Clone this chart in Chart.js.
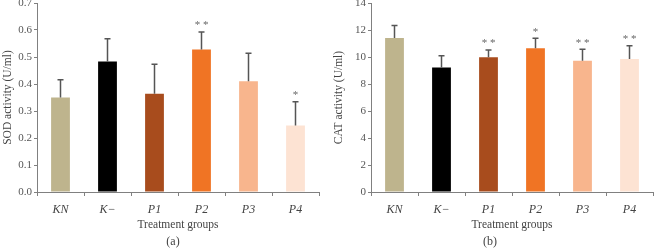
<!DOCTYPE html>
<html>
<head>
<meta charset="utf-8">
<script src="https://cdn.jsdelivr.net/npm/chart.js@4/dist/chart.umd.min.js"></script>
<style>
  html, body { margin: 0; padding: 0; background: #fff; }
  #wrap { position: relative; width: 654px; height: 250px; overflow: hidden; }
  .box { position: absolute; top: 0; width: 327px; height: 250px; }
  .cap { position: absolute; top: 234px; font-family: "Liberation Serif", "DejaVu Serif", serif; font-size: 12px; color: #444; transform: translateX(-50%); }
</style>
</head>
<body>
<div id="wrap">
  <div class="box" style="left:0"><canvas id="c1" width="327" height="250"></canvas></div>
  <div class="box" style="left:327px"><canvas id="c2" width="327" height="250"></canvas></div>
  <div class="cap" style="left:173px">(a)</div>
  <div class="cap" style="left:490px">(b)</div>
</div>
<script>
const categories = ['KN', 'K\u2212', 'P1', 'P2', 'P3', 'P4'];
const barColors = ['#BEB48D', '#000000', '#A84C1D', '#F07424', '#F8B58D', '#FDE3D3'];

const sodMean = [0.350, 0.483, 0.364, 0.528, 0.410, 0.246];
const sodSD   = [0.066, 0.085, 0.109, 0.065, 0.104, 0.088];
const sodSig  = ['', '', '', '**', '', '*'];
const sodTicks = [0, 0.7, 0.1];

const catMean = [11.41, 9.23, 9.98, 10.65, 9.73, 9.85];
const catSD   = [0.92, 0.87, 0.54, 0.74, 0.84, 0.99];
const catSig  = ['', '', '**', '*', '**', '**'];
const catTicks = [0, 14, 2];

const serif = '"Liberation Serif", "DejaVu Serif", serif';
const tickColor = '#555';
const axisColor = '#808080';

const errorBarPlugin = {
  id: 'errbars',
  afterDatasetsDraw(chart, args, opts) {
    const ctx = chart.ctx;
    const meta = chart.getDatasetMeta(0);
    const ys = chart.scales.y;
    ctx.save();
    meta.data.forEach((bar, i) => {
      const m = opts.mean[i], sd = opts.sd[i];
      const x = bar.x;
      const y0 = ys.getPixelForValue(m);
      const y1 = ys.getPixelForValue(m + sd);
      ctx.strokeStyle = '#555';
      ctx.lineWidth = 1.5;
      ctx.beginPath();
      ctx.moveTo(x, y0);
      ctx.lineTo(x, y1);
      ctx.moveTo(x - 3, y1);
      ctx.lineTo(x + 3, y1);
      ctx.stroke();
      if (opts.sig[i]) {
        ctx.fillStyle = '#666';
        ctx.font = '11px ' + serif;
        ctx.textAlign = 'center';
        ctx.textBaseline = 'bottom';
        ctx.fillText(opts.sig[i].split('').join(' '), x, y1 - 1);
      }
    });
    ctx.restore();
  }
};

function makeChart(id, mean, sd, sig, ticks, yTitle, axisW, padRight, decimals, titlePad) {
  return new Chart(document.getElementById(id), {
    type: 'bar',
    data: {
      labels: categories,
      datasets: [{
        data: mean,
        backgroundColor: barColors,
        borderWidth: 0,
        categoryPercentage: 1,
        barPercentage: 0.4
      }]
    },
    options: {
      responsive: false,
      animation: false,
      devicePixelRatio: 1,
      layout: { padding: { top: 3, right: padRight, bottom: 18, left: 0 } },
      plugins: {
        legend: { display: false },
        tooltip: { enabled: false },
        errbars: { mean: mean, sd: sd, sig: sig }
      },
      scales: {
        x: {
          grid: { display: true, drawOnChartArea: false, drawTicks: true, tickLength: 4, color: axisColor, offset: true },
          border: { display: true, color: axisColor, width: 1 },
          ticks: { color: '#444', font: { family: serif, size: 12, style: 'italic' }, padding: 7 },
          title: { display: true, text: 'Treatment groups', color: '#444', font: { family: serif, size: 11.5 }, padding: { top: 0, bottom: 0 } },
          afterFit(scale) { scale.height = 40; }
        },
        y: {
          min: ticks[0], max: ticks[1],
          grid: { display: true, drawOnChartArea: false, drawTicks: true, tickLength: 3, color: axisColor },
          border: { display: true, color: axisColor, width: 1 },
          ticks: {
            stepSize: ticks[2], color: tickColor, padding: 2,
            font: { family: serif, size: 11 },
            callback: v => decimals ? Number(v).toFixed(decimals) : String(v)
          },
          title: { display: true, text: yTitle, color: '#444', font: { family: serif, size: 11.5 }, padding: { top: titlePad, bottom: 0 } },
          afterFit(scale) { scale.width = axisW; scale.paddingTop = 0; scale.paddingBottom = 0; }
        }
      }
    },
    plugins: [errorBarPlugin]
  });
}

makeChart('c1', sodMean, sodSD, sodSig, sodTicks, 'SOD activity (U/ml)', 37, 8, 1, 1);
makeChart('c2', catMean, catSD, catSig, catTicks, 'CAT activity (U/ml)', 44, 1, 0, 5);
</script>
</body>
</html>
